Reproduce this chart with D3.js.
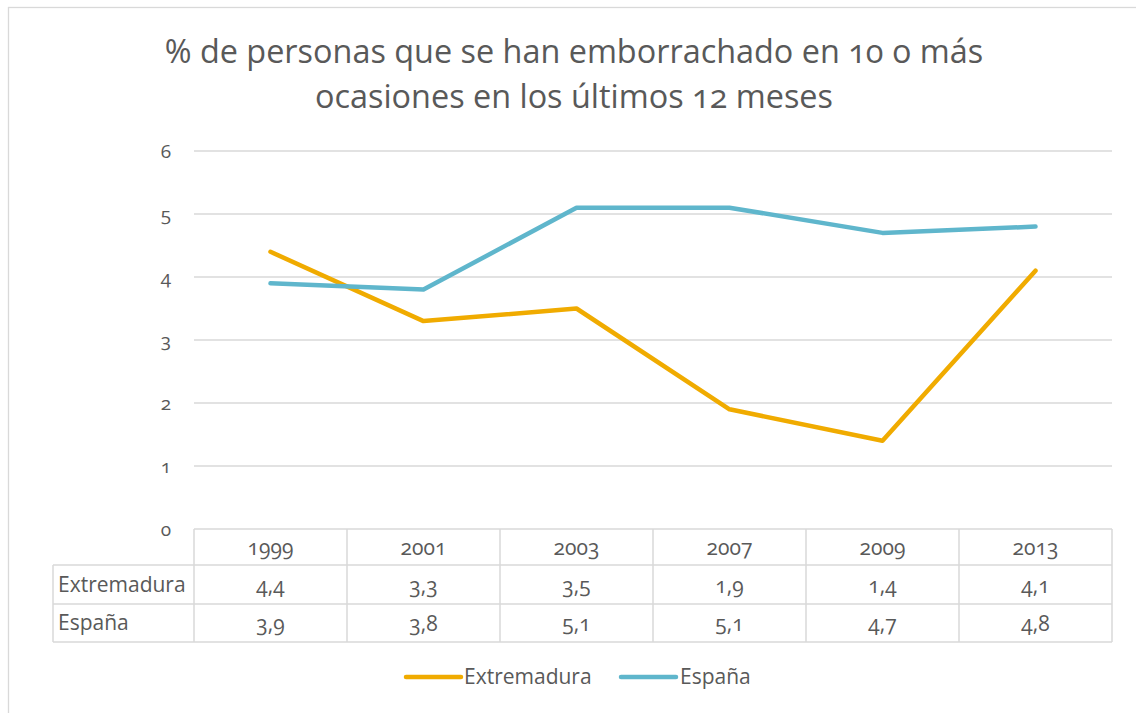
<!DOCTYPE html>
<html><head><meta charset="utf-8">
<script src="https://cdn.jsdelivr.net/npm/d3@7"></script>
<style>
body{margin:0;background:#fff;}
text{font-family:"Open Sans","Noto Sans",sans-serif;fill:#595959;font-variant-numeric:oldstyle-nums;}
</style></head><body>
<svg id="c" width="1136" height="713"></svg>
<script>
const titleLines = ["% de personas que se han emborrachado en 10 o más", "ocasiones en los últimos 12 meses"];
const years = ["1999","2001","2003","2007","2009","2013"];
const extremadura = [4.4,3.3,3.5,1.9,1.4,4.1];
const espana = [3.9,3.8,5.1,5.1,4.7,4.8];
const seriesNames = ["Extremadura","España"];
const yTicks = [0,1,2,3,4,5,6];
const colors = ["#F0AB00","#5FB6CC"];

const svg = d3.select("#c");
const fmt = v => String(v).replace(".", ",");

// outer frame
svg.append("rect").attr("x",8.5).attr("y",7.5).attr("width",1200).attr("height",800)
  .attr("fill","none").attr("stroke","#d9d9d9").attr("stroke-width",1.3);

// title
svg.append("text").attr("x",574).attr("y",63).attr("text-anchor","middle")
  .style("font-size","32.4px").text(titleLines[0]);
svg.append("text").attr("x",574).attr("y",108).attr("text-anchor","middle")
  .style("font-size","32.4px").text(titleLines[1]);

const x = d3.scaleBand().domain(years).range([194,1112]);
const y = d3.scaleLinear().domain([0,6]).range([529,151]);

// gridlines
svg.append("g").selectAll("line").data(yTicks.filter(d=>d>0)).join("line")
  .attr("x1",194).attr("x2",1112).attr("y1",d=>y(d)).attr("y2",d=>y(d))
  .attr("stroke","#d9d9d9").attr("stroke-width",1.3);

// y axis labels
const yAxis = d3.axisLeft(y).tickValues(yTicks).tickSize(0).tickPadding(23).tickFormat(d=>d);
const ga = svg.append("g").attr("transform","translate(194,0)").call(yAxis);
ga.select(".domain").remove();
ga.selectAll("text").style("font-size","19px").style("font-family",null).attr("fill",null);

// data table
const rowTop = [529,565,604,642];
const tbl = svg.append("g").attr("stroke","#d9d9d9").attr("stroke-width",1.5).attr("fill","none");
tbl.append("line").attr("x1",194).attr("x2",1112).attr("y1",rowTop[0]).attr("y2",rowTop[0]);
[1,2,3].forEach(i=>tbl.append("line").attr("x1",53).attr("x2",1112).attr("y1",rowTop[i]).attr("y2",rowTop[i]));
tbl.append("line").attr("x1",53).attr("x2",53).attr("y1",rowTop[1]).attr("y2",rowTop[3]);
years.forEach(yr=>tbl.append("line").attr("x1",x(yr)).attr("x2",x(yr)).attr("y1",rowTop[0]).attr("y2",rowTop[3]));
tbl.append("line").attr("x1",1112).attr("x2",1112).attr("y1",rowTop[0]).attr("y2",rowTop[3]);

const cx = d => x(d)+x.bandwidth()/2;
svg.append("g").selectAll("text").data(years).join("text")
  .attr("x",cx).attr("y",(rowTop[0]+rowTop[1])/2+8).attr("text-anchor","middle")
  .style("font-size","21px").text(d=>d);
[extremadura,espana].forEach((vals,i)=>{
  const yy = (rowTop[i+1]+rowTop[i+2])/2+7;
  svg.append("text").attr("x",58).attr("y",yy).style("font-size","21px").text(seriesNames[i]);
  svg.append("g").selectAll("text").data(vals).join("text")
    .attr("x",(d,j)=>cx(years[j])).attr("y",yy+1).attr("text-anchor","middle")
    .style("font-size","21px").text(fmt);
});

// lines
const line = d3.line().x((d,j)=>cx(years[j])).y(d=>y(d));
[extremadura,espana].forEach((vals,i)=>{
  svg.append("path").datum(vals).attr("d",line).attr("fill","none")
    .attr("stroke",colors[i]).attr("stroke-width",4.5)
    .attr("stroke-linejoin","round").attr("stroke-linecap","round");
});

// legend
const leg = [{x:406,tx:464},{x:621,tx:680}];
leg.forEach((l,i)=>{
  svg.append("line").attr("x1",l.x).attr("x2",l.x+55).attr("y1",677).attr("y2",677)
    .attr("stroke",colors[i]).attr("stroke-width",4.5).attr("stroke-linecap","round");
  svg.append("text").attr("x",l.tx).attr("y",684).style("font-size","21px").text(seriesNames[i]);
});
</script></body></html>
